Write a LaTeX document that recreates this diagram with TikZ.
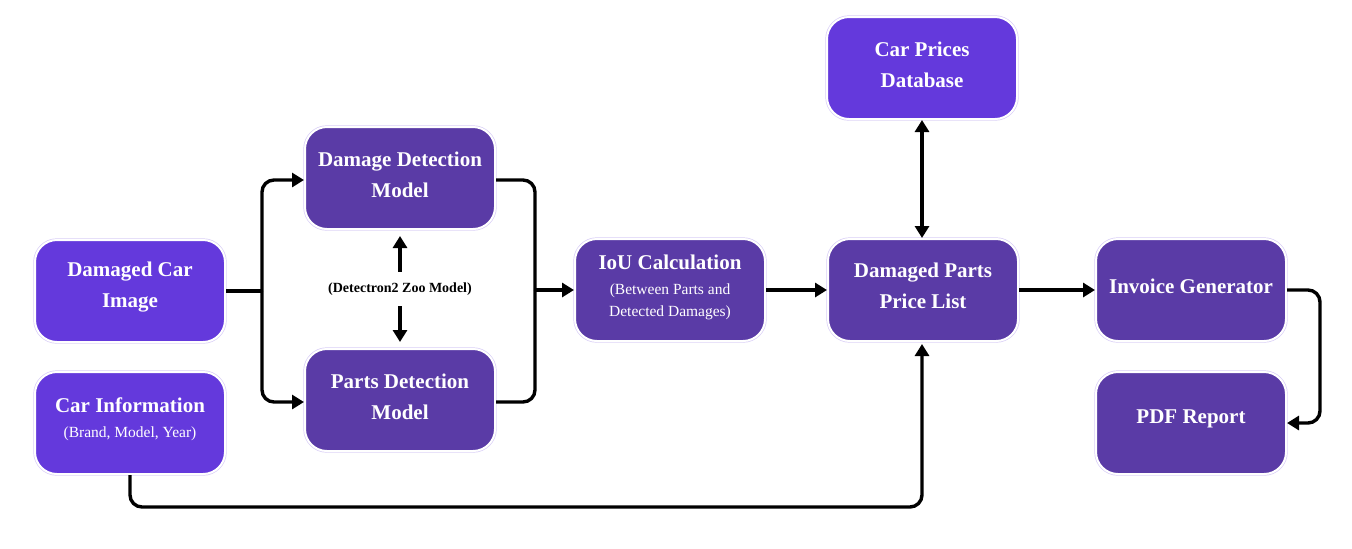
\documentclass[tikz,border=0pt]{standalone}
\usepackage{fontspec}
\setmainfont{Liberation Serif}
\usetikzlibrary{arrows.meta}
\definecolor{inbox}{HTML}{6439DC}
\definecolor{procbox}{HTML}{5A3BA6}
\definecolor{rim}{HTML}{D9CEF6}
\newcommand\subtxt{\fontsize{7.75}{11}\selectfont\mdseries}
\tikzset{
  box/.style={rectangle, rounded corners=11pt, minimum width=95pt, minimum height=51pt,
    draw=white, line width=1pt, preaction={draw=rim, line width=1.7pt}},
  inb/.style={box, fill=inbox},
  prb/.style={box, fill=procbox},
  ttl/.style={text=white, align=center, font=\fontsize{10.5}{15.5}\selectfont\bfseries},
  conn/.style={line width=1.7pt, rounded corners=6pt, -{Triangle[length=6pt,width=7pt]}},
}
\begin{document}
\begin{tikzpicture}[x=0.5pt,y=-0.5pt]
\useasboundingbox (0,0) rectangle (1352,548);
% boxes
\node[inb] (img) at (130,291) {};
\node[inb] (info) at (130,423) {};
\node[prb] (dmg) at (400,178) {};
\node[prb] (parts) at (400,400) {};
\node[prb] (iou) at (670,290) {};
\node[inb] (db) at (922,68) {};
\node[prb] (price) at (923,290) {};
\node[prb] (inv) at (1191,290) {};
\node[prb] (pdf) at (1191,423) {};
% texts
\node[ttl] (timg) at (130,287) {Damaged Car\\Image};
\node[ttl] (tinfo) at (130,419) {Car Information\\[-3pt]{\subtxt(Brand, Model, Year)}};
\node[ttl] (tdmg) at (400,175) {Damage Detection\\Model};
\node[ttl] (tparts) at (400,397) {Parts Detection\\Model};
\node[ttl] (tiou) at (670,287) {IoU Calculation\\[-3pt]{\subtxt(Between Parts and}\\[-4.5pt]{\subtxt Detected Damages)}};
\node[ttl] (tdb) at (922,65) {Car Prices\\Database};
\node[ttl] (tprice) at (923,286) {Damaged Parts\\Price List};
\node[ttl] (tinv) at (1191,286) {Invoice Generator};
\node[ttl] (tpdf) at (1191,419) {PDF Report};
\node[font=\fontsize{7}{8}\selectfont\bfseries] (zoo) at (400,289) {(Detectron2 Zoo Model)};
% connectors
\coordinate (fork) at (262,291);
\draw[line width=1.7pt] (img.east) -- (fork);
\draw[conn] (fork) -- (fork |- 0,180) -- (dmg.west |- 0,180);
\draw[conn] (fork) -- (fork |- 0,402) -- (parts.west |- 0,402);
\coordinate (merge) at (535,290);
\draw[line width=1.7pt, rounded corners=6pt] (dmg.east |- 0,180) -- (merge |- 0,180) -- (merge);
\draw[line width=1.7pt, rounded corners=6pt] (parts.east |- 0,402) -- (merge |- 0,402) -- (merge);
\draw[conn] (merge) -- (iou.west);
\draw[conn, shorten <=2pt, shorten >=3pt] (zoo.north) -- (dmg.south);
\draw[conn, shorten <=2pt, shorten >=3pt] (zoo.south) -- (parts.north);
\draw[conn] (iou.east) -- (price.west);
\draw[conn, {Triangle[length=6pt,width=7pt]}-{Triangle[length=6pt,width=7pt]}] (db.south) -- (db.south |- price.north);
\draw[conn] (price.east) -- (inv.west);
\draw[conn] (inv.east) -- (1320,290) -- (1320,423) -- (pdf.east);
\draw[conn] (info.south) -- (130,507) -- (922,507) -- (922,344);
\end{tikzpicture}
\end{document}
